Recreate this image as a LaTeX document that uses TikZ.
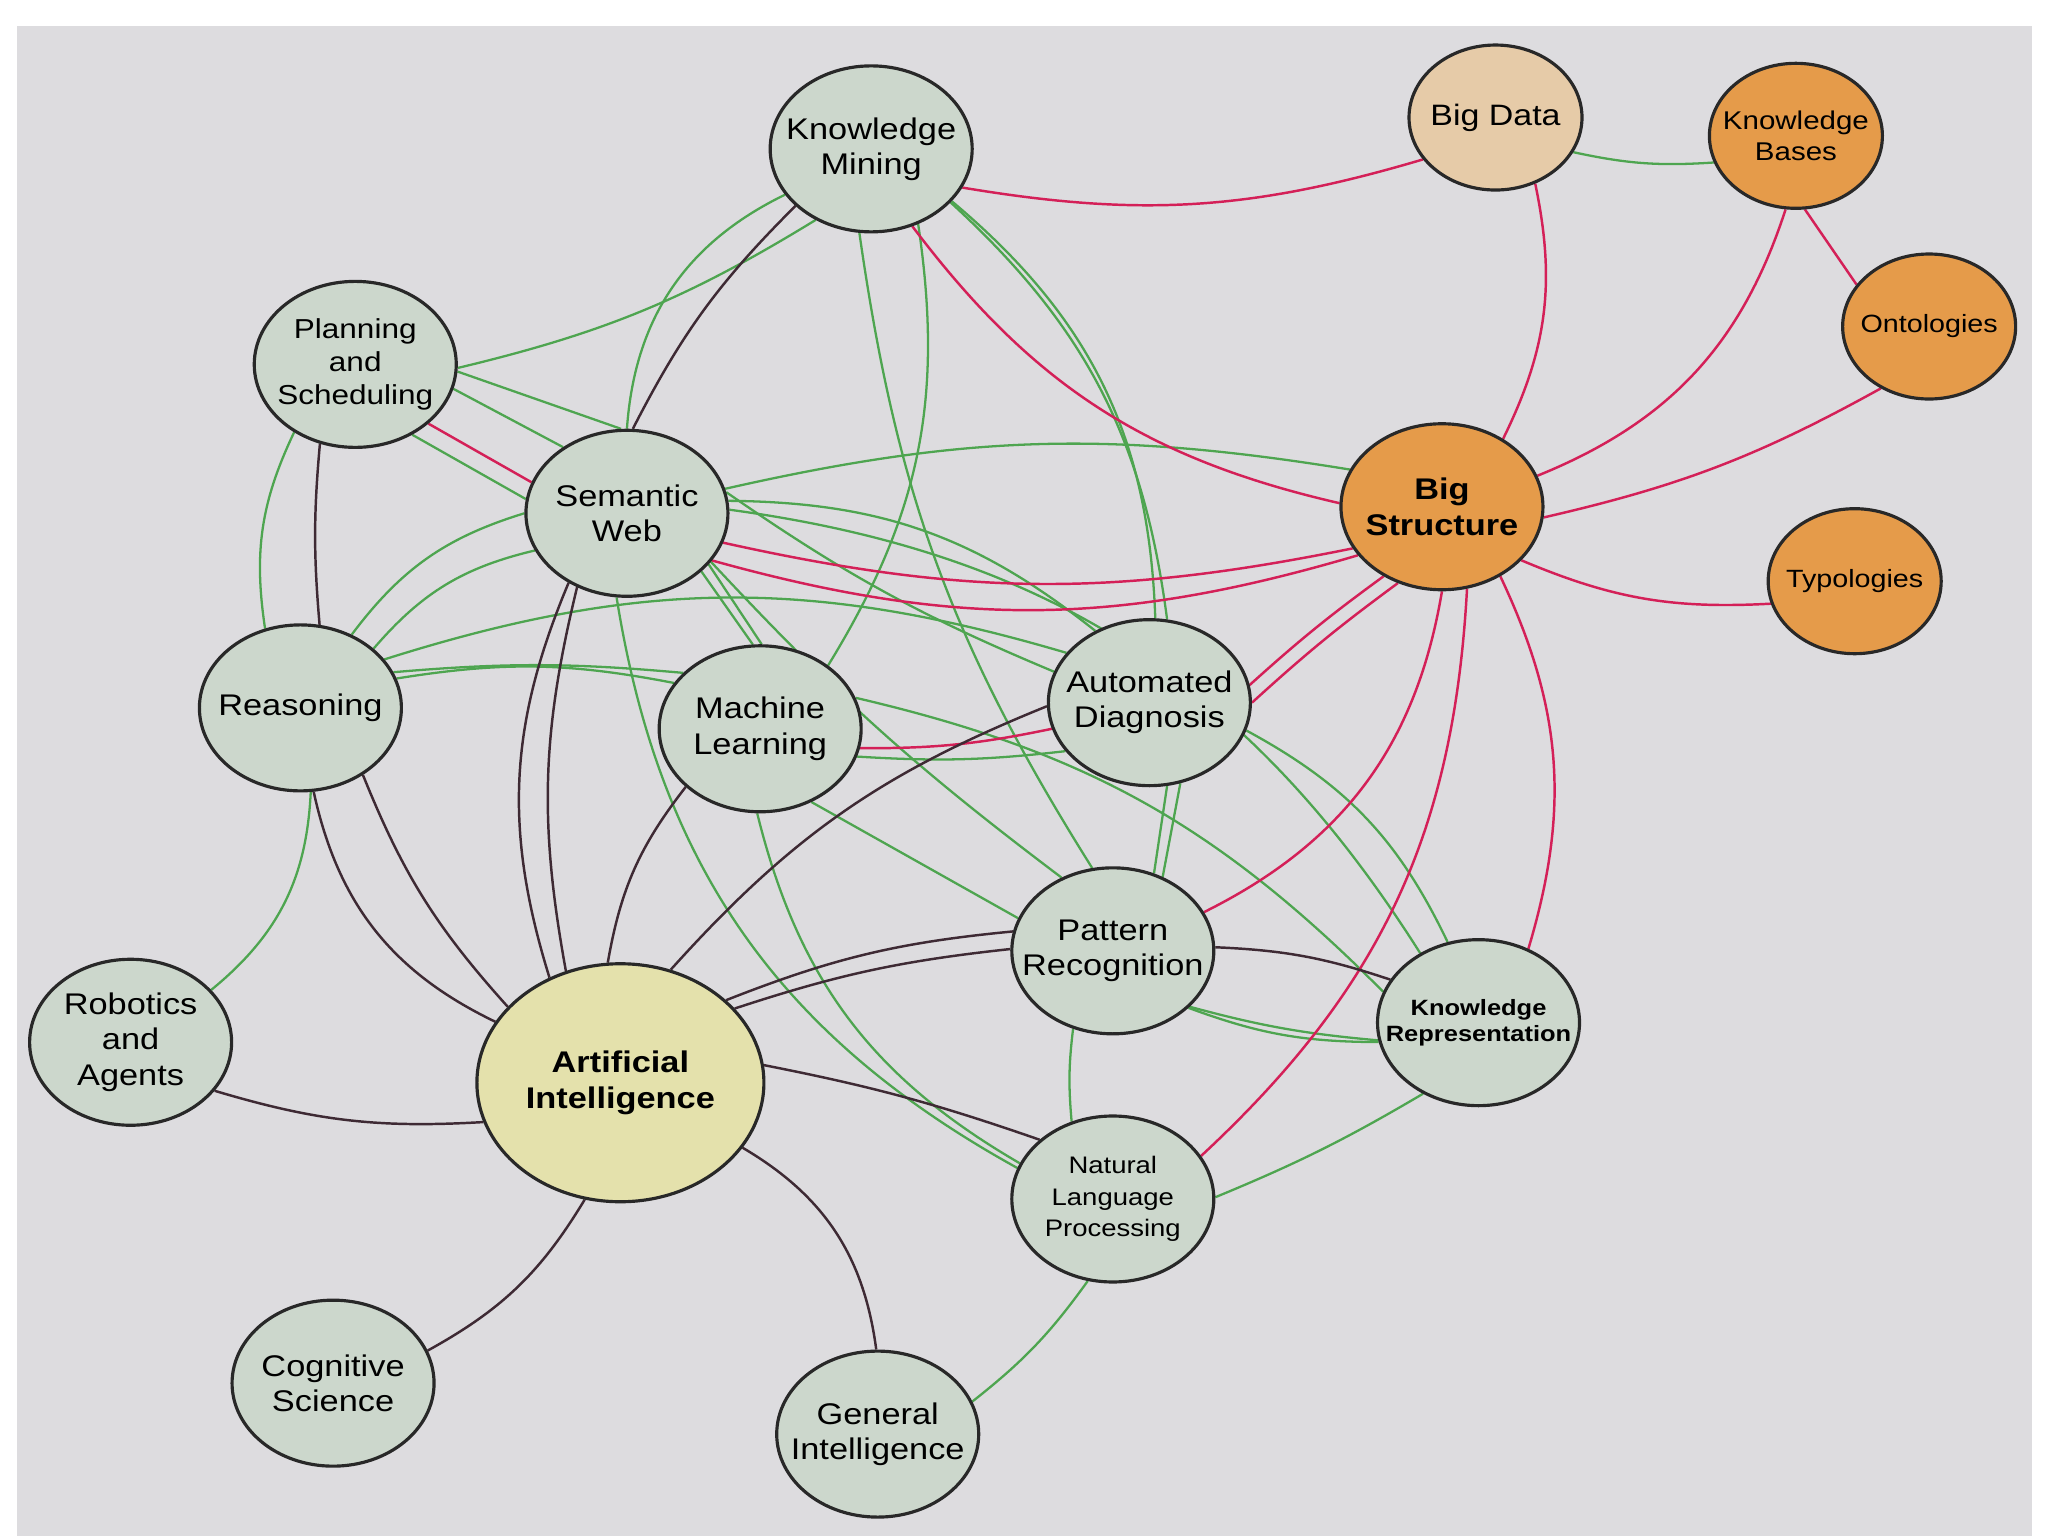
\documentclass[tikz,border=0pt]{standalone}
\usepackage{fontspec}
\newfontfamily\topicfont[FakeStretch=1.15]{Liberation Sans}
\usetikzlibrary{shapes.geometric}
\pgfdeclarelayer{paper}
\pgfdeclarelayer{links}
\pgfsetlayers{paper,links,main}

\definecolor{paper}{RGB}{221,220,223}
\definecolor{topicfill}{RGB}{204,215,204}
\definecolor{corefill}{RGB}{228,225,172}
\definecolor{datafill}{RGB}{230,203,168}
\definecolor{hubfill}{RGB}{229,155,74}
\definecolor{rimline}{RGB}{40,40,40}
\definecolor{linkgreen}{RGB}{78,165,80}
\definecolor{linkred}{RGB}{212,32,88}
\definecolor{linkdark}{RGB}{62,42,52}

\begin{document}
\begin{tikzpicture}[x=0.01306cm, y=0.01306cm,
  topic/.style={ellipse, draw=rimline, line width=0.9pt, fill=topicfill,
    minimum width=2.02cm, minimum height=1.66cm, inner sep=0pt},
  plain/.style={},
  core/.style={fill=corefill, minimum width=2.87cm, minimum height=2.38cm},
  data/.style={fill=datafill, minimum width=1.73cm, minimum height=1.45cm},
  hub/.style={fill=hubfill},
  leaf/.style={fill=hubfill, minimum width=1.73cm, minimum height=1.45cm},
  words/.style={align=center, inner sep=0pt, text=black},
  words reg/.style={font=\topicfont\fontsize{8.5}{10}\selectfont},
  words plan/.style={font=\topicfont\fontsize{7.8}{9.3}\selectfont},
  words bold/.style={font=\topicfont\bfseries\fontsize{8.5}{10.4}\selectfont},
  words data/.style={font=\topicfont\fontsize{8.4}{10}\selectfont},
  words small/.style={font=\topicfont\fontsize{7.3}{8.8}\selectfont},
  words leaf/.style={font=\topicfont\fontsize{7.1}{8.5}\selectfont},
  words kr/.style={font=\topicfont\bfseries\fontsize{6.3}{7.6}\selectfont},
  words nlp/.style={font=\topicfont\fontsize{6.8}{8.9}\selectfont},
  green link/.style={draw=linkgreen, line width=0.65pt},
  red link/.style={draw=linkred, line width=0.7pt},
  dark link/.style={draw=linkdark, line width=0.7pt}]

\useasboundingbox (0,0) rectangle (1568,1176);
\begin{pgfonlayer}{paper}
  \fill[white] (0,0) rectangle (1568,1176);
  \fill[paper] (13,0) rectangle (1556,1156);
\end{pgfonlayer}

% topics
\foreach \n/\x/\y/\s/\f/\t in {
  km/667/1062/plain/reg/{Knowledge\\Mining},
  bd/1145/1086/data/data/{Big Data},
  kb/1375/1072/leaf/small/{Knowledge\\Bases},
  on/1477/926/leaf/leaf/{Ontologies},
  ty/1420/731/leaf/leaf/{Typologies},
  bs/1104/788/hub/bold/{Big\\Structure},
  ps/272/897/plain/plan/{Planning\\and\\Scheduling},
  sw/480/783/plain/reg/{Semantic\\Web},
  re/230/634/plain/reg/{Reasoning},
  ml/582/618/plain/reg/{Machine\\Learning},
  ad/880/638/plain/reg/{Automated\\Diagnosis},
  pr/852/448/plain/reg/{Pattern\\Recognition},
  kr/1132/393/plain/kr/{Knowledge\\Representation},
  ai/475/347/core/bold/{Artificial\\Intelligence},
  ra/100/378/plain/reg/{Robotics\\and\\Agents},
  nlp/852/258/plain/nlp/{Natural\\Language\\Processing},
  cs/255/117/plain/reg/{Cognitive\\Science},
  gi/672/78/plain/reg/{General\\Intelligence}}
{
  \node[topic, \s] (\n) at (\x,\y) {};
  \node[words, words \f] (\n-t) at (\n) {\t};
}

\begin{pgfonlayer}{links}
% green links
\foreach \a/\p/\b/\q/\k in {
  km/208/sw/90/-30, km/232/ps/358/9, km/262/pr/104/-12, km/302/ml/43/20,
  km/327/ad/86/24, km/326/ad/78/20, ad/282/pr/62/0, ad/291/pr/56/0,
  ps/228/re/114/-17, ps/309/sw/172/0, ps/356/sw/94/0, ps/346/sw/134/0,
  sw/14/bs/158/11, sw/7/ad/127/19, sw/12/ad/162/-6, sw/2/kr/130/25,
  sw/330/pr/125/-5, sw/180/re/55/-18, sw/202/re/39/-18,
  sw/322/ml/95/0, sw/328/ml/89/0, sw/263/nlp/162/-26,
  re/30/ad/149/17, re/21/ml/144/5, re/17/ml/152/10, ra/33/re/277/-24,
  ml/344/ad/210/-5, ml/18/kr/162/16, ml/268/nlp/159/-23, ml/305/pr/161/0,
  ad/344/kr/111/18, pr/324/kr/190/-5, pr/323/kr/191/-10,
  pr/243/nlp/118/-6, nlp/1/kr/232/-4, gi/19/nlp/253/-8, bd/336/kb/198/-8}
  \draw[green link] (\a.\p) to[bend left=\k] (\b.\q);

% red links
\foreach \a/\p/\b/\q/\k in {
  km/337/bd/210/-13, km/298/bs/178/-20, bd/301/bs/48/19, kb/262/bs/18/25,
  on/232/bs/354/8, bs/326/ty/195/-13, kb/277/on/150/0, ps/321/sw/162/0,
  sw/343/bs/205/-12, sw/331/bs/210/-16, ml/349/ad/195/-6,
  ad/10/bs/230/3, ad/0/bs/240/3, pr/23/bs/270/-27, nlp/26/bs/287/-22,
  kr/56/bs/310/-21}
  \draw[red link] (\a.\p) to[bend left=\k] (\b.\q);

% dark links
\foreach \a/\p/\b/\q/\k in {
  km/217/sw/86/-9, sw/230/ai/124/-20, sw/236/ai/116/-12, ps/246/re/77/-5,
  re/279/ai/154/-26, re/313/ai/146/-10, ml/218/ai/96/-14, ad/182/ai/66/-13,
  ai/38/pr/169/8, ai/33/pr/179/6, pr/2/kr/154/8, ai/7/nlp/141/4,
  ra/330/ai/196/-10, ai/253/cs/19/15, ai/332/gi/91/26}
  \draw[dark link] (\a.\p) to[bend left=\k] (\b.\q);
\end{pgfonlayer}

\end{tikzpicture}
\end{document}
